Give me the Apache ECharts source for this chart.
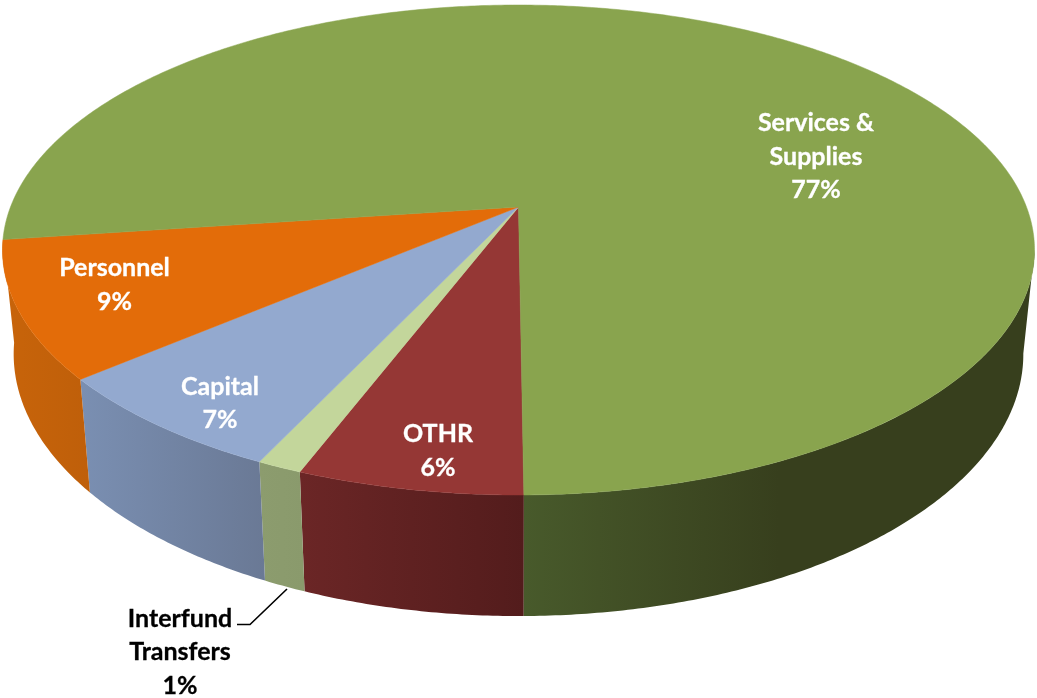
<!DOCTYPE html>
<html>
<head>
<meta charset="utf-8">
<style>html,body{margin:0;padding:0;background:#fff}#c{width:1037px;height:698px}</style>
<script src="https://cdn.jsdelivr.net/npm/echarts@6/dist/echarts.min.js"></script>
</head>
<body>
<div id="c"></div>
<script>
// Data (front of the pie, going clockwise on screen)
const categories = ['OTHR', 'Interfund\nTransfers', 'Capital', 'Personnel', 'Services &\nSupplies'];
const values = [6, 1.2, 6.8, 9, 77];
const topColors = ['#953735', '#c3d69b', '#93a9cf', '#e36c09', '#89a44e'];
const wallLeft = ['#6b2626', '#8c9c6e', '#7a8fb2', '#c8640a', '#485a2b'];
const wallRight = ['#531c1c', '#8a9a6c', '#6a7995', '#bf5f0a', '#373f1d'];
const labelColors = ['#fff', '#000', '#fff', '#fff', '#fff'];

// Projection of the tilted disc
const rot = -0.5, p = 0.1755;
const cx = 518.5, wTop = 508, yTop = 207, kTop = 237.45;
const wBot = 497, yBot = 308, kBot = 254;
const labelPos = [[438, 451], [180, 652], [220, 403.5], [114.5, 285], [816, 156.5]];

function proj(deg, bottom) {
  const a = deg * Math.PI / 180, u = -Math.sin(a), s = Math.cos(a), d = 1 - p * s;
  return bottom
    ? [cx + wBot * u / d, yBot + kBot * s / d]
    : [cx + wTop * u / d, yTop + kTop * s / d];
}
function arc(from, to, bottom) {
  const pts = [], n = Math.max(2, Math.ceil(Math.abs(to - from) * 2));
  for (let i = 0; i <= n; i++) pts.push(proj(from + (to - from) * i / n, bottom));
  return pts;
}
const total = values.reduce((a, b) => a + b, 0);
let acc = rot;
const spans = values.map(v => { const s = acc; acc += v / total * 360; return [s, acc]; });

function renderItem(params, api) {
  const i = api.value(0), span = spans[i], pct = Math.round(api.value(1) / total * 100);
  const children = [];
  // Only the front-facing part of the side wall is visible
  const isBig = span[1] > 270;
  const w0 = isBig ? Math.max(280, span[0]) : span[0];
  const w1 = span[1];
  const wallPts = arc(w0, w1, false).concat(arc(w1, w0, true));
  const xs = wallPts.map(q => q[0]);
  const gx0 = Math.min.apply(null, xs), gxMax = Math.max.apply(null, xs);
  const gx1 = isBig ? gx0 + (gxMax - gx0) * 0.5 : gxMax;
  children.push({
    type: 'polygon', z2: 0, shape: { points: wallPts },
    style: {
      fill: { type: 'linear', global: true, x: gx0, y: 0, x2: gx1, y2: 0,
        colorStops: [{ offset: 0, color: wallLeft[i] }, { offset: 1, color: wallRight[i] }] }
    }
  });
  children.push({
    type: 'polygon', z2: 1,
    shape: { points: [[cx, yTop]].concat(arc(span[0], span[1], false)) },
    style: { fill: topColors[i], stroke: topColors[i], lineWidth: 0.5 }
  });
  children.push({
    type: 'text', z2: 2, x: labelPos[i][0], y: labelPos[i][1],
    style: {
      text: categories[i] + '\n' + pct + '%', fill: labelColors[i],
      stroke: labelColors[i], lineWidth: 0.3,
      font: 'bold 25px Lato', lineHeight: 33.5, align: 'center', verticalAlign: 'middle'
    }
  });
  return { type: 'group', children: children };
}

const chart = echarts.init(document.getElementById('c'), null, { renderer: 'canvas' });
chart.setOption({
  animation: false,
  backgroundColor: '#fff',
  series: [{
    type: 'custom', coordinateSystem: 'none', silent: true,
    renderItem: renderItem,
    data: values.map((v, i) => ({ name: categories[i], value: [i, v] }))
  }],
  graphic: [{
    type: 'polyline', z: 10, silent: true,
    shape: { points: [[237, 624.5], [250, 624.5], [287, 589]] },
    style: { stroke: '#000', lineWidth: 1.6, fill: null }
  }]
});
</script>
</body>
</html>
